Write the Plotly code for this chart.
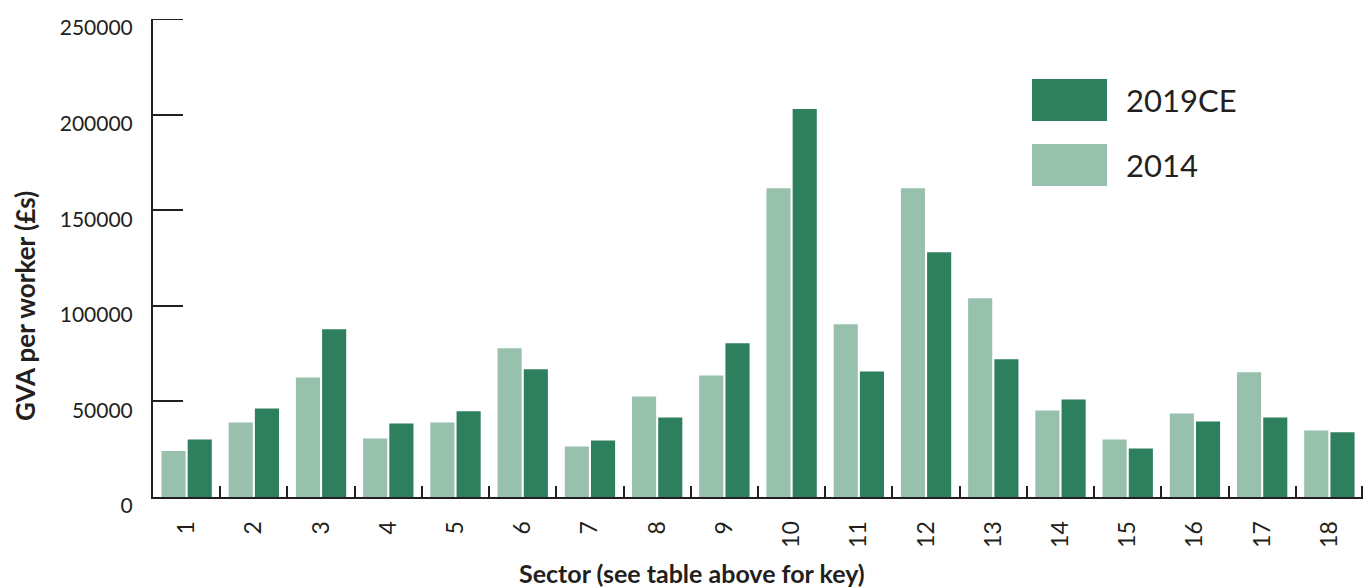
import plotly.graph_objects as go

# Sectors 1-18 and GVA per worker (GBP) for each year
sectors = [str(i) for i in range(1, 19)]
gva_2014 = [24000, 39000, 62500, 30600, 39000, 77800, 26400, 52600, 63600,
            161500, 90300, 161500, 104000, 45300, 30100, 43700, 65200, 34800]
gva_2019ce = [30100, 46300, 87700, 38500, 44800, 66800, 29600, 41600, 80400,
              202900, 65700, 128000, 72000, 51000, 25400, 39500, 41600, 33800]

series_names = ["2014", "2019CE"]
y_ticks = [0, 50000, 100000, 150000, 200000, 250000]

DARK = "#2e7f5e"
LIGHT = "#97c0ad"
INK = "#231f20"
FONT = "Lato, 'Open Sans', sans-serif"

# Plot area in pixels
PLOT_L, PLOT_R, PLOT_T, PLOT_B = 153, 1363, 19, 497
PW, PH = PLOT_R - PLOT_L, PLOT_B - PLOT_T
Y_TICK_LEN = 30
X_TICK_LEN = 11


def px_x(x):
    return (x - PLOT_L) / PW


def px_y(y):
    return (PLOT_B - y) / PH


fig = go.Figure()
fig.add_trace(go.Bar(x=sectors, y=gva_2014, name=series_names[0],
                     marker=dict(color=LIGHT, line=dict(width=0))))
fig.add_trace(go.Bar(x=sectors, y=gva_2019ce, name=series_names[1],
                     marker=dict(color=DARK, line=dict(width=0))))

fig.update_layout(
    width=1365, height=588,
    margin=dict(l=PLOT_L, r=1365 - PLOT_R, t=PLOT_T, b=588 - PLOT_B),
    paper_bgcolor="white", plot_bgcolor="white",
    barmode="group", bargap=0.22, bargroupgap=0.08,
    showlegend=False,
    font=dict(family=FONT, color=INK, size=21),
)

fig.update_xaxes(
    type="category",
    showline=True, linecolor=INK, linewidth=2,
    ticks="inside", tickson="boundaries", ticklen=X_TICK_LEN, tickwidth=2, tickcolor=INK,
    tickangle=-90, ticklabelstandoff=13,
    tickfont=dict(size=23, family=FONT, color=INK),
    showgrid=False, zeroline=False,
)
fig.update_yaxes(
    range=[0, y_ticks[-1]],
    tickvals=y_ticks, ticktext=[str(v) for v in y_ticks],
    showline=True, linecolor=INK, linewidth=2,
    ticks="inside", ticklen=Y_TICK_LEN, tickwidth=2, tickcolor=INK,
    ticklabelstandoff=14, ticklabelshift=9,
    tickfont=dict(size=21, family=FONT, color=INK),
    showgrid=False, zeroline=False,
)

# Inside ticks at the very ends of an axis are clipped by plotly, so those are drawn here
fig.add_shape(type="line", xref="paper", yref="y",
              x0=0, x1=Y_TICK_LEN / PW, y0=y_ticks[-1], y1=y_ticks[-1],
              line=dict(color=INK, width=2), layer="above")
fig.add_shape(type="line", xref="paper", yref="paper",
              x0=1 - 1 / PW, x1=1 - 1 / PW, y0=0, y1=X_TICK_LEN / PH,
              line=dict(color=INK, width=2), layer="above")

# Axis titles
fig.add_annotation(text="<b>Sector (see table above for key)</b>",
                   xref="paper", yref="paper", x=px_x(692), y=px_y(573),
                   xanchor="center", yanchor="middle", showarrow=False,
                   font=dict(size=25, family=FONT, color=INK))
fig.add_annotation(text="<b>GVA per worker (£s)</b>",
                   xref="paper", yref="paper", x=px_x(25), y=px_y(306),
                   xanchor="center", yanchor="middle", textangle=-90, showarrow=False,
                   font=dict(size=26, family=FONT, color=INK))

# Key with large swatches
key = [(series_names[1], DARK, 79, 121), (series_names[0], LIGHT, 144, 186)]
for label, color, top, bottom in key:
    fig.add_shape(type="rect", xref="paper", yref="paper",
                  x0=px_x(1032), x1=px_x(1107),
                  y0=px_y(bottom), y1=px_y(top),
                  fillcolor=color, line=dict(width=0))
    fig.add_annotation(text=label, xref="paper", yref="paper",
                       x=px_x(1124), y=px_y((top + bottom) / 2),
                       xanchor="left", yanchor="middle", showarrow=False,
                       font=dict(size=31, family=FONT, color=INK))

fig.write_html("out.html")
